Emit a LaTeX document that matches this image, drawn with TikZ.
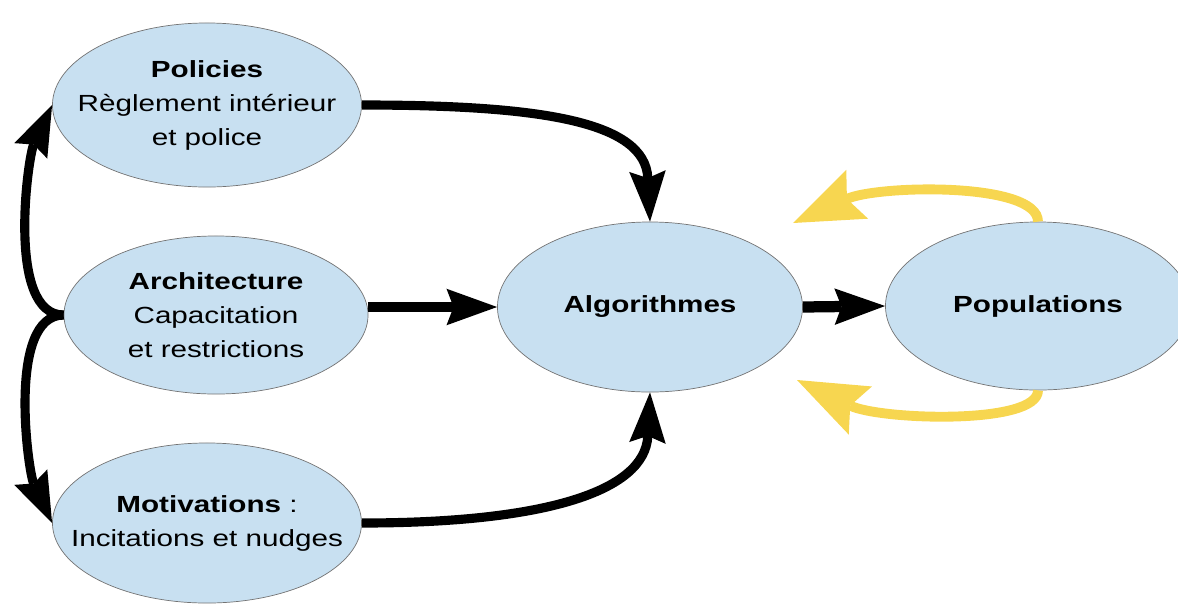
\documentclass[tikz,border=0pt]{standalone}
\usepackage{fontspec}
\setmainfont{Liberation Sans}[FakeStretch=1.27]
\usetikzlibrary{shapes.geometric,arrows.meta}
\definecolor{bubble}{RGB}{200,224,241}
\definecolor{rim}{RGB}{115,115,115}
\definecolor{feedback}{RGB}{247,214,80}

\begin{document}
\begin{tikzpicture}[x=0.025cm, y=-0.025cm, font=\fontsize{16.6}{24.2}\selectfont]
\tikzset{%
	blob/.style = {draw=rim, line width=.5pt, ellipse, fill=bubble, inner sep=0pt},
	txt/.style = {align=center, inner sep=0pt},
	con/.style = {-{Stealth[length=36pt,width=26pt,inset=5pt,line width=0pt]}, line width=6.5pt, black},
	fb/.style = {-{Stealth[length=50pt,width=38pt,inset=8pt,line width=0pt]}, line width=7pt, feedback}
}
\useasboundingbox (0,0) rectangle (1178,608);

% Levers
\node[blob, minimum width=7.725cm, minimum height=4.1cm,
	label={[txt]center:{\textbf{Policies}\\Règlement intérieur\\et police}}] (pol) at (207,105) {};
\node[blob, minimum width=7.6cm, minimum height=3.95cm,
	label={[txt]center:{\textbf{Architecture}\\Capacitation\\et restrictions}}] (arch) at (216,315) {};
\node[blob, minimum width=7.725cm, minimum height=4cm,
	label={[txt]center:{\textbf{Motivations} :\\Incitations et nudges}}] (mot) at (207,523) {};

% Targets
\node[blob, minimum width=7.625cm, minimum height=4.25cm,
	label={[txt]center:{\textbf{Algorithmes}}}] (alg) at (650,307) {};
\node[blob, minimum width=7.625cm, minimum height=4.2cm,
	label={[txt]center:{\textbf{Populations}}}] (pop) at (1038,306) {};

\coordinate (fbup) at (793,223);
\coordinate (fbdown) at (797,380);

\draw[con] (pol.east) .. controls +(180,0) and +(-5,-100) .. (alg.north);
\draw[con] (arch.east |- alg.west) -- (alg.west);
\draw[con] (mot.east) .. controls +(180,0) and +(-5,100) .. (alg.south);
\draw[con, line width=8pt] (alg.east) -- (pop.west);

\draw[con] (arch.west) to[out=180, in=-115, looseness=.7] (pol.west);
\draw[con] (arch.west) to[out=180, in=115, looseness=.7] (mot.west);

% Feedback
\draw[fb] (pop.north) .. controls +(0,-40) and +(85,-38) .. (fbup);
\draw[fb] (pop.south) .. controls +(0,35) and +(83,40) .. (fbdown);

\end{tikzpicture}
\end{document}
